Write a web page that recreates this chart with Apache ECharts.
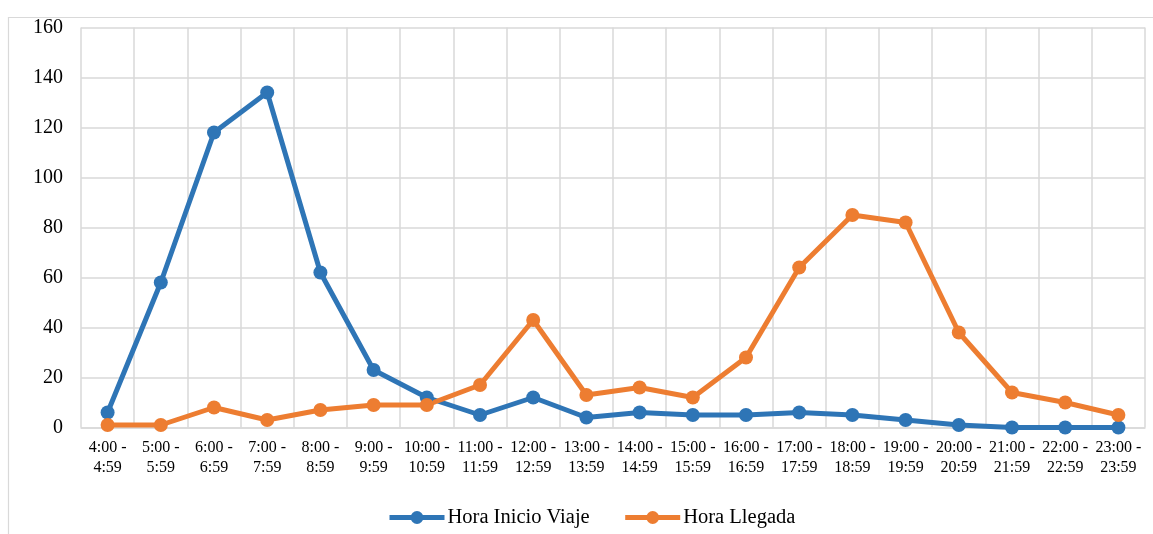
<!DOCTYPE html>
<html>
<head>
<meta charset="utf-8">
<script src="https://cdn.jsdelivr.net/npm/echarts@6/dist/echarts.min.js"></script>
<style>
html,body{margin:0;padding:0;background:#fff;}
#chart{width:1153px;height:534px;}
</style>
</head>
<body>
<div id="chart"></div>
<script>
const categories = ['4:00 - 4:59','5:00 - 5:59','6:00 - 6:59','7:00 - 7:59','8:00 - 8:59','9:00 - 9:59','10:00 - 10:59','11:00 - 11:59','12:00 - 12:59','13:00 - 13:59','14:00 - 14:59','15:00 - 15:59','16:00 - 16:59','17:00 - 17:59','18:00 - 18:59','19:00 - 19:59','20:00 - 20:59','21:00 - 21:59','22:00 - 22:59','23:00 - 23:59'];
const horaInicioViaje = [6, 58, 118, 134, 62, 23, 12, 5, 12, 4, 6, 5, 5, 6, 5, 3, 1, 0, 0, 0];
const horaLlegada = [1, 1, 8, 3, 7, 9, 9, 17, 43, 13, 16, 12, 28, 64, 85, 82, 38, 14, 10, 5];
const seriesNames = ['Hora Inicio Viaje', 'Hora Llegada'];

const chart = echarts.init(document.getElementById('chart'));
const font = 'Liberation Serif, Times New Roman, serif';
const gridColor = '#d9d9d9';
chart.setOption({
  animation: false,
  backgroundColor: '#fff',
  textStyle: { fontFamily: font, color: '#000' },
  graphic: [{
    type: 'rect', left: 6, top: 15, z: -10,
    shape: { width: 1160, height: 540 },
    style: { fill: 'none', stroke: gridColor, lineWidth: 1.2 }
  }],
  grid: { left: 81, right: 8, top: 27.5, bottom: 106.5, containLabel: false },
  legend: {
    left: 387, top: 507, padding: 0,
    itemWidth: 55, itemHeight: 16, itemGap: 33,
    lineStyle: { width: 5 },
    textStyle: { fontFamily: font, fontSize: 20.5, color: '#000', padding: [0, 0, 0, -2] },
    data: seriesNames
  },
  xAxis: {
    type: 'category',
    data: categories,
    boundaryGap: true,
    axisLine: { show: true, lineStyle: { color: gridColor, width: 1.5 } },
    axisTick: { show: false },
    splitLine: { show: true, lineStyle: { color: gridColor, width: 1.5 } },
    axisLabel: {
      interval: 0, margin: 10,
      fontFamily: font, fontSize: 16, lineHeight: 20, color: '#000',
      formatter: v => v.replace(' - ', ' -\n')
    }
  },
  yAxis: {
    type: 'value', min: 0, max: 160, interval: 20,
    axisLine: { show: false },
    axisTick: { show: false },
    splitLine: { show: true, lineStyle: { color: gridColor, width: 1.5 } },
    axisLabel: { margin: 18, fontFamily: font, fontSize: 20, color: '#000' }
  },
  series: [
    {
      name: seriesNames[0], type: 'line', data: horaInicioViaje,
      symbol: 'circle', symbolSize: 14,
      lineStyle: { color: '#2E75B6', width: 5 },
      itemStyle: { color: '#2E75B6' }
    },
    {
      name: seriesNames[1], type: 'line', data: horaLlegada,
      symbol: 'circle', symbolSize: 14,
      lineStyle: { color: '#ED7D31', width: 5 },
      itemStyle: { color: '#ED7D31' }
    }
  ]
});
</script>
</body>
</html>
